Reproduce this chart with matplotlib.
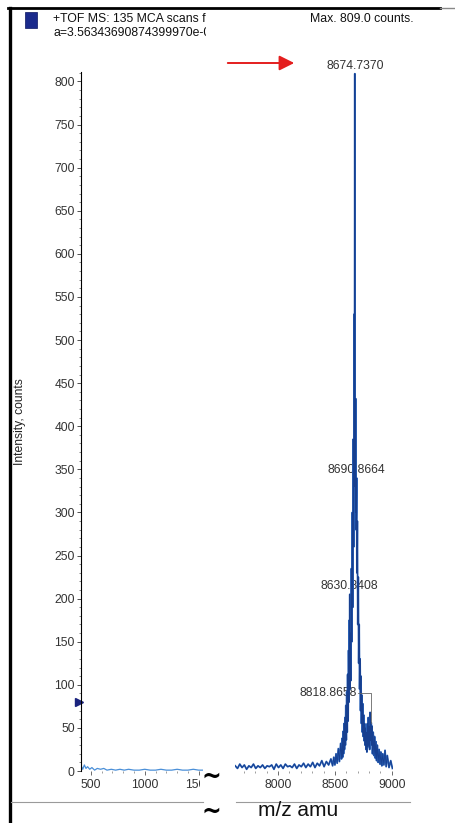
import matplotlib
matplotlib.use("Agg")
import matplotlib.pyplot as plt
from matplotlib.lines import Line2D
from matplotlib.patches import Rectangle
from matplotlib.transforms import Bbox, TransformedBbox, blended_transform_factory
from matplotlib.ticker import MultipleLocator

plt.rcParams['font.family'] = ['Liberation Sans', 'DejaVu Sans']

# ---------------- data ----------------
left_mz = [410, 425, 440, 455, 470, 490, 510, 535, 560, 590, 620, 650, 690, 730, 770,
           810, 850, 900, 950, 1000, 1050, 1100, 1150, 1200, 1250, 1300, 1350, 1400,
           1450, 1500, 1540]
left_int = [6, 2, 7, 3, 5, 2, 4, 1, 3, 2, 3, 1, 2, 1, 2, 1, 2, 1, 1, 2, 1, 1, 2, 1, 1,
            2, 1, 1, 2, 1, 1]

right_mz = [7625, 7645, 7665, 7685, 7705, 7725, 7745, 7765, 7785, 7805, 7825, 7845,
            7865, 7885, 7905, 7925, 7945, 7965, 7985, 8005, 8025, 8045, 8065, 8085,
            8105, 8125, 8145, 8165, 8185, 8205, 8225, 8245, 8265, 8285, 8305, 8325,
            8345, 8365, 8385, 8405, 8425, 8445, 8465, 8480, 8490, 8500, 8510, 8520,
            8530, 8540, 8550, 8558,
            8564, 8568, 8572, 8576, 8580, 8584, 8588, 8592, 8596, 8600, 8604, 8608,
            8612, 8616, 8620, 8624, 8627, 8628.5, 8630.84, 8633, 8637, 8641, 8645,
            8649, 8653, 8657, 8661, 8665, 8669, 8672, 8674.74, 8677, 8680, 8682.5,
            8685, 8688, 8690.87, 8693, 8697, 8701, 8705, 8709, 8713, 8717, 8721,
            8725, 8729, 8733, 8737, 8741, 8745, 8749, 8753, 8757, 8761, 8765, 8769,
            8773, 8777, 8781, 8785, 8789, 8793, 8797, 8801, 8805, 8809, 8813,
            8818.87, 8822, 8826, 8830, 8836, 8842, 8848, 8854, 8860, 8866, 8872,
            8880, 8888, 8896, 8904, 8912, 8920, 8930, 8940, 8950, 8960, 8975, 8990,
            9005]
right_int = [6, 3, 8, 4, 7, 2, 6, 4, 8, 3, 6, 4,
             7, 3, 6, 5, 7, 2, 8, 4, 7, 3, 8, 5,
             6, 4, 8, 3, 7, 5, 9, 4, 8, 5, 10, 4,
             9, 6, 12, 5, 11, 7, 14, 6, 16, 7, 20, 9,
             26, 11, 32, 14,
             38, 16, 46, 20, 55, 25, 62, 30, 76, 36, 92, 45,
             112, 58, 140, 80, 175, 110, 205, 95, 160, 105, 235,
             150, 300, 190, 385, 260, 530, 330, 809, 380, 300, 432,
             280, 300, 340, 230, 290, 170, 225, 125, 170, 95, 130,
             70, 110, 55, 88, 45, 78, 40, 65, 35, 55, 30, 50,
             25, 45, 22, 55, 28, 62, 30, 52, 25, 68, 35,
             56, 30, 52, 20, 45, 18, 40, 15, 34, 12, 30,
             10, 25, 8, 22, 6, 20, 7, 24, 5, 18, 4, 12,
             3]

peak_labels = ["8674.7370", "8690.8664", "8630.8408", "8818.8658"]
peak_mz = [8674.74, 8690.87, 8630.84, 8818.87]
peak_int = [809, 340, 205, 56]

yticks = [0, 50, 100, 150, 200, 250, 300, 350, 400, 450, 500, 550, 600, 650, 700, 750, 800]
left_xticks = [500, 1000, 1500]
right_xticks = [8000, 8500, 9000]

# ---------------- layout helpers ----------------
W, H = 455, 823
def fx(px):
    return px / W
def fy(py):
    return 1 - py / H

fig = plt.figure(figsize=(W / 100, H / 100), dpi=100)
fig.patch.set_facecolor('white')

y_top, y_bot = 72, 771
axL = fig.add_axes([fx(81), fy(y_bot), fx(203) - fx(81), fy(y_top) - fy(y_bot)])
axR = fig.add_axes([fx(235), fy(y_bot), fx(393) - fx(235), fy(y_top) - fy(y_bot)])

tick_col = '#333333'
for ax in (axL, axR):
    ax.set_facecolor('none')
    ax.set_ylim(0, 811)
    for s in ('top', 'right', 'bottom'):
        ax.spines[s].set_visible(False)
    ax.tick_params(axis='x', which='major', length=3, width=0.6, color='#555555',
                   labelsize=8.7, labelcolor=tick_col, pad=3)
    ax.tick_params(axis='x', which='minor', length=1.5, width=0.5, color='#777777')
    ax.xaxis.set_minor_locator(MultipleLocator(100))

axL.set_xlim(409, 1540)
axR.set_xlim(7623, 9010)

axL.spines['left'].set_color('black')
axL.spines['left'].set_linewidth(0.8)
axL.set_yticks(yticks)
axL.yaxis.set_minor_locator(MultipleLocator(10))
axL.tick_params(axis='y', which='major', length=3, width=0.6, color='#333333',
                labelsize=8.7, labelcolor=tick_col, pad=1.5)
axL.tick_params(axis='y', which='minor', length=1.5, width=0.5, color='#555555')
axL.set_xticks(left_xticks)
axR.spines['left'].set_visible(False)
axR.set_yticks([])
axR.yaxis.set_minor_locator(plt.NullLocator())
axR.set_xticks(right_xticks)

# spectra
axL.plot(left_mz, left_int, color='#4a8fd8', lw=0.9)
axR.plot(right_mz, right_int, color='#2a62b8', lw=1.3)
axR.plot(right_mz, right_int, color='#173f8f', lw=0.6)

# peak labels
lab_col = '#333333'
for lab, mz, it in zip(peak_labels[:3], peak_mz[:3], peak_int[:3]):
    axR.annotate(lab, xy=(mz, it), xytext=(0, 1.5), textcoords='offset points',
                 ha='center', va='bottom', fontsize=8.7, color=lab_col, zorder=1)
# offset label with leader line
lab_x, lab_y = 8443, 90
axR.text(lab_x, lab_y, peak_labels[3], ha='center', va='center', fontsize=8.7,
         color=lab_col, zorder=1)
axR.plot([8700, peak_mz[3], peak_mz[3]], [lab_y, lab_y, peak_int[3]],
         color='#666666', lw=0.6)

# blue threshold marker
trans = blended_transform_factory(axL.transAxes, axL.transData)
axL.plot([-0.015], [80], marker='>', ms=5.5, color='#1a237e', transform=trans,
         clip_on=False)

# y label
fig.text(fx(20), fy(422), 'Intensity, counts', rotation=90, ha='center', va='center',
         fontsize=8.7, color='#222222')

# x label
fig.text(fx(298), fy(810), 'm/z amu', ha='center', va='center', fontsize=15,
         color='#111111')

# header
clip = TransformedBbox(Bbox([[0, 0], [fx(206), 1]]), fig.transFigure)
t1 = fig.text(fx(53), fy(19), '+TOF MS: 135 MCA scans from', ha='left', va='center',
              fontsize=8.8, color='#111111')
t2 = fig.text(fx(53), fy(33), 'a=3.56343690874399970e-004', ha='left', va='center',
              fontsize=8.8, color='#111111')
for t in (t1, t2):
    t.set_clip_on(True)
    t.set_clip_box(clip)
fig.text(fx(310), fy(19), 'Max. 809.0 counts.', ha='left', va='center',
         fontsize=8.8, color='#111111')
fig.patches.append(Rectangle((fx(25), fy(28)), fx(12), fy(12) - fy(28),
                             transform=fig.transFigure, facecolor='#1a2a8c',
                             edgecolor='#0a1560', lw=0.5))

# clip the 1500 tick label
clipL = TransformedBbox(Bbox([[0, 0], [fx(200), 1]]), fig.transFigure)
for t in axL.xaxis.get_major_ticks():
    t.label1.set_clip_on(True)
    t.label1.set_clip_box(clipL)

# red arrow
fig.add_artist(matplotlib.patches.FancyArrowPatch(
    (fx(225), fy(63)), (fx(297), fy(63)), transform=fig.transFigure,
    arrowstyle='-|>,head_length=0.9,head_width=0.45', mutation_scale=10,
    color='#e41e1e', lw=1.4))

# frame lines
fig.add_artist(Line2D([fx(9.5), fx(9.5)], [fy(8), fy(823)], color='black', lw=2.4,
                      transform=fig.transFigure))
fig.add_artist(Line2D([fx(8), fx(440)], [fy(8), fy(8)], color='black', lw=2.0,
                      transform=fig.transFigure))
fig.add_artist(Line2D([fx(440), fx(455)], [fy(8), fy(8)], color='#888888', lw=1.0,
                      transform=fig.transFigure))

# bottom gray lines
fig.add_artist(Line2D([fx(11), fx(203)], [fy(802), fy(802)], color='#9a9a9a', lw=0.8,
                      transform=fig.transFigure))
fig.add_artist(Line2D([fx(236), fx(410)], [fy(802), fy(802)], color='#9a9a9a', lw=0.8,
                      transform=fig.transFigure))

# break tildes
fig.text(fx(211), fy(777), '~', ha='center', va='center', fontsize=17, color='black',
         family='DejaVu Sans', weight='bold')
fig.text(fx(211), fy(812), '~', ha='center', va='center', fontsize=17, color='black',
         family='DejaVu Sans', weight='bold')

fig.savefig('out.png', dpi=100, facecolor='white')
